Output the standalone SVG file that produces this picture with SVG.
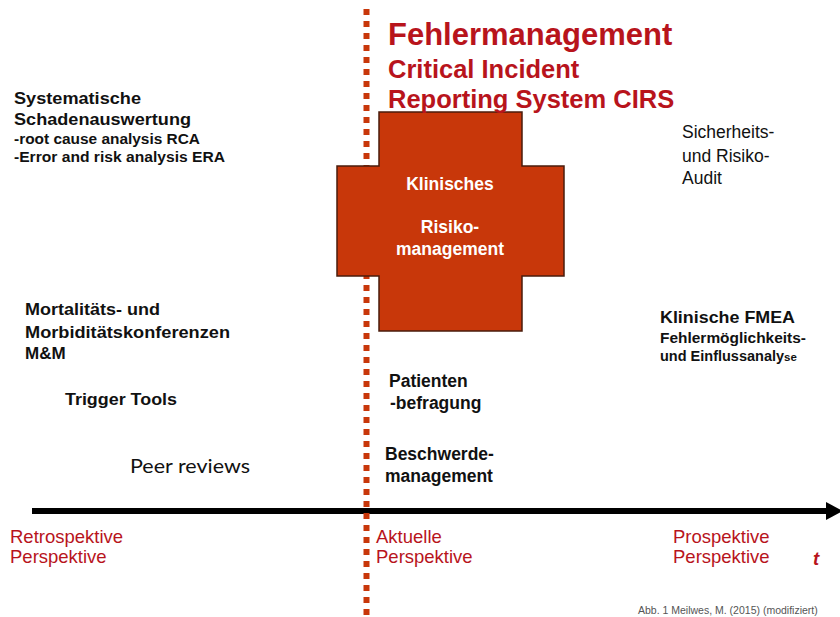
<svg xmlns="http://www.w3.org/2000/svg" width="840" height="617" viewBox="0 0 840 617">
  <style>
    .b { font-family: "Liberation Sans", Arial, sans-serif; font-weight: bold; fill: #111; }
    .r { font-family: "Liberation Sans", Arial, sans-serif; fill: #111; }
    .red { font-family: "Liberation Sans", Arial, sans-serif; fill: #b8141c; font-size: 18.5px; }
    .title { font-family: "Liberation Sans", Arial, sans-serif; font-weight: bold; fill: #b8141c; }
    .w { font-family: "Liberation Sans", Arial, sans-serif; font-weight: bold; fill: #fff; text-anchor: middle; font-size: 17.5px; }
  </style>
  <rect width="840" height="617" fill="#fff"/>

  <g id="connectors">
    <!-- time axis -->
    <line x1="32" y1="511" x2="830" y2="511" stroke="#000" stroke-width="6"/>
    <path d="M826,502 L843,511 L826,520 Z" fill="#000"/>
    <!-- present-time divider -->
    <line x1="366.5" y1="9" x2="366.5" y2="617" stroke="#c8370a" stroke-width="6" stroke-dasharray="6 6"/>
  </g>

  <g id="cross">
    <path d="M379,112 H522 V166 H564 V276 H522 V331 H379 V276 H337 V166 H379 Z" fill="#c8370a" stroke="#4a1c0c" stroke-width="1.5"/>
    <text class="w" x="450" y="190">Klinisches</text>
    <text class="w" x="450" y="233">Risiko-</text>
    <text class="w" x="450" y="255">management</text>
  </g>

  <g id="title">
    <text class="title" x="388" y="45" font-size="31">Fehlermanagement</text>
    <text class="title" x="388" y="78" font-size="25.5">Critical Incident</text>
    <text class="title" x="388" y="108" font-size="25.5">Reporting System CIRS</text>
  </g>

  <g id="schadenauswertung">
    <text class="b" x="14" y="104" font-size="16.5" textLength="127" lengthAdjust="spacingAndGlyphs">Systematische</text>
    <text class="b" x="14" y="125" font-size="16.5" textLength="177" lengthAdjust="spacingAndGlyphs">Schadenauswertung</text>
    <text class="b" x="14" y="144" font-size="14.5" textLength="186" lengthAdjust="spacingAndGlyphs">-root cause analysis RCA</text>
    <text class="b" x="14" y="162" font-size="14.5" textLength="211" lengthAdjust="spacingAndGlyphs">-Error and risk analysis ERA</text>
  </g>

  <g id="audit">
    <text class="r" x="682" y="138" font-size="17.5">Sicherheits-</text>
    <text class="r" x="682" y="162" font-size="17.5">und Risiko-</text>
    <text class="r" x="682" y="184" font-size="17.5">Audit</text>
  </g>

  <g id="fmea">
    <text class="b" x="660" y="323" font-size="17" textLength="135" lengthAdjust="spacingAndGlyphs">Klinische FMEA</text>
    <text class="b" x="660" y="343" font-size="14.5" textLength="146" lengthAdjust="spacingAndGlyphs">Fehlermöglichkeits-</text>
    <text class="b" x="660" y="361" font-size="14.5">und Einflussanaly<tspan font-size="11.5">se</tspan></text>
  </g>

  <g id="mm">
    <text class="b" x="25" y="315" font-size="17" textLength="135" lengthAdjust="spacingAndGlyphs">Mortalitäts- und</text>
    <text class="b" x="25" y="338" font-size="17" textLength="205" lengthAdjust="spacingAndGlyphs">Morbiditätskonferenzen</text>
    <text class="b" x="25" y="359" font-size="17">M&amp;M</text>
  </g>

  <g id="trigger">
    <text class="b" x="65" y="405" font-size="17" textLength="112" lengthAdjust="spacingAndGlyphs">Trigger Tools</text>
  </g>

  <g id="peer">
    <text x="130" y="473" font-family="Lato, 'Open Sans', sans-serif" font-size="19" fill="#111" textLength="120" lengthAdjust="spacingAndGlyphs">Peer reviews</text>
  </g>

  <g id="patienten">
    <text class="b" x="389" y="387" font-size="17.5">Patienten</text>
    <text class="b" x="390" y="409" font-size="17.5">-befragung</text>
  </g>

  <g id="beschwerde">
    <text class="b" x="385" y="460" font-size="17.5">Beschwerde-</text>
    <text class="b" x="385" y="482" font-size="17.5">management</text>
  </g>

  <g id="perspectives">
    <text class="red" x="10" y="543">Retrospektive</text>
    <text class="red" x="10" y="563">Perspektive</text>
    <text class="red" x="376" y="543">Aktuelle</text>
    <text class="red" x="376" y="563">Perspektive</text>
    <text class="red" x="673" y="543">Prospektive</text>
    <text class="red" x="673" y="563">Perspektive</text>
    <text class="red" x="813" y="565" font-size="20" font-weight="bold" font-style="italic">t</text>
  </g>

  <g id="source">
    <text x="638" y="614" font-family="'Liberation Sans', Arial, sans-serif" font-size="10.5" fill="#555">Abb. 1 Meilwes, M. (2015) (modifiziert)</text>
  </g>
</svg>
